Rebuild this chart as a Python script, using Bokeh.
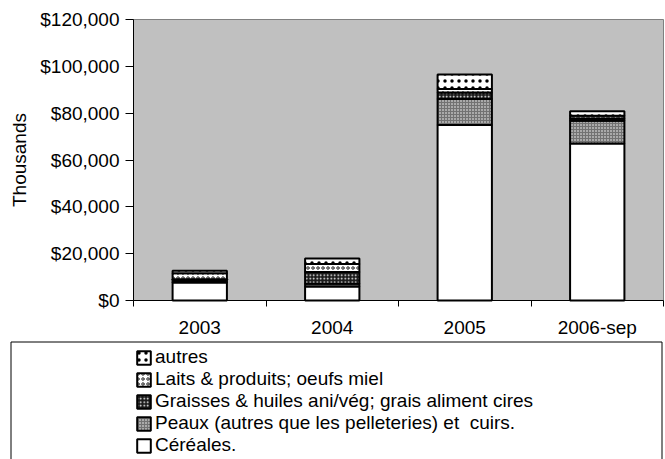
from bokeh.plotting import figure
from bokeh.models import (Range1d, FixedTicker, NumeralTickFormatter, Legend,
                          LegendItem)
from bokeh.embed import file_html
from bokeh.resources import INLINE

categories = ["2003", "2004", "2005", "2006-sep"]
cereales = [7700, 6000, 75000, 67000]
peaux = [600, 1100, 11100, 9800]
graisses = [800, 5100, 2700, 900]
laits = [2500, 3400, 1500, 1200]
autres = [1100, 2300, 6200, 1900]
series_names = ["Céréales.", "Peaux (autres que les pelleteries) et  cuirs.",
                "Graisses & huiles ani/vég; grais aliment cires",
                "Laits & produits; oeufs miel", "autres"]
y_ticks = [0, 20000, 40000, 60000, 80000, 100000, 120000]
y_max = 120000

FONT = "Liberation Sans"
W, H = 665, 459
# plot-area placement on the canvas (pixels)
PL, PR, PT, PB = 133, 663, 19, 300
n = len(categories)
ux = (PR - PL) / n
uy = (PB - PT) / y_max

def dx(px):
    return (px - PL) / ux

def dy(py):
    return (PB - py) / uy

p = figure(width=W, height=H, output_backend="svg", toolbar_location=None,
           x_range=Range1d(dx(0), dx(W)), y_range=Range1d(dy(H), dy(0)),
           min_border=0, min_border_left=0, min_border_right=0,
           min_border_top=0, min_border_bottom=0)
p.background_fill_color = "white"
p.border_fill_color = "white"
p.outline_line_color = None
p.xgrid.visible = False
p.ygrid.visible = False

# plot area
p.quad(left=0, right=n, bottom=0, top=y_max, fill_color="#c0c0c0",
       line_color="#808080", line_width=1)

xs = [i + 0.5 for i in range(n)]
series = [cereales, peaux, graisses, laits, autres]
styles = [
    dict(fill_color="white"),
    dict(fill_color="#727272", hatch_pattern=".", hatch_color="#ffffff", hatch_scale=3, hatch_weight=1),
    dict(fill_color="#1a1a1a", hatch_pattern=".", hatch_color="#ffffff", hatch_scale=3.5, hatch_weight=1),
    dict(fill_color="white", hatch_pattern="o", hatch_color="#222222", hatch_scale=5, hatch_weight=1),
    dict(fill_color="white", hatch_pattern=".", hatch_color="#000000", hatch_scale=7, hatch_weight=1.6),
]
renderers = []
bottom = [0] * n
for vals, st in zip(series, styles):
    top = [b + v for b, v in zip(bottom, vals)]
    r = p.vbar(x=xs, bottom=bottom, top=top, width=0.41, line_color="black",
               line_width=2, **st)
    renderers.append(r)
    bottom = top

yax = p.yaxis[0]
yax.fixed_location = 0
yax.bounds = (0, y_max)
yax.ticker = FixedTicker(ticks=y_ticks)
yax.formatter = NumeralTickFormatter(format="$0,0")
yax.axis_label = "Thousands"
yax.axis_label_text_font = FONT
yax.axis_label_text_font_style = "normal"
yax.axis_label_text_font_size = "19px"
yax.axis_label_text_color = "black"
yax.axis_label_standoff = 7
yax.major_label_text_font = FONT
yax.major_label_text_font_size = "19px"
yax.major_label_text_color = "black"
yax.major_tick_out = 8
yax.major_tick_in = 0
yax.major_label_standoff = 6
yax.minor_tick_line_color = None
yax.axis_line_color = "black"
yax.major_tick_line_color = "black"

xax = p.xaxis[0]
xax.fixed_location = 0
xax.bounds = (0, n)
xax.ticker = FixedTicker(ticks=xs, minor_ticks=list(range(n + 1)))
xax.major_label_overrides = {x: c for x, c in zip(xs, categories)}
xax.major_label_text_font = FONT
xax.major_label_text_font_size = "19px"
xax.major_label_text_color = "black"
xax.major_tick_line_color = None
xax.major_tick_out = 0
xax.major_tick_in = 0
xax.minor_tick_line_color = "black"
xax.minor_tick_out = 6
xax.minor_tick_in = 0
xax.major_label_standoff = 10
xax.axis_line_color = "black"

# legend frame (its bottom edge lies below the window, as in the reference)
p.line(x=[dx(10.5), dx(10.5), dx(661.5), dx(661.5)],
       y=[dy(475), dy(341.5), dy(341.5), dy(475)],
       line_color="black", line_width=1)

items = [LegendItem(label=nm, renderers=[r]) for nm, r in zip(series_names, renderers)]
items = items[::-1]
legend = Legend(items=items, location=(135, 3), orientation="vertical",
                padding=0, margin=0, spacing=0, glyph_width=17, glyph_height=17,
                label_height=17, label_standoff=3,
                label_text_font=FONT, label_text_font_size="19px",
                label_text_color="black",
                border_line_color=None, background_fill_alpha=0)
p.add_layout(legend)

open("out.html", "w").write(file_html(p, INLINE))
